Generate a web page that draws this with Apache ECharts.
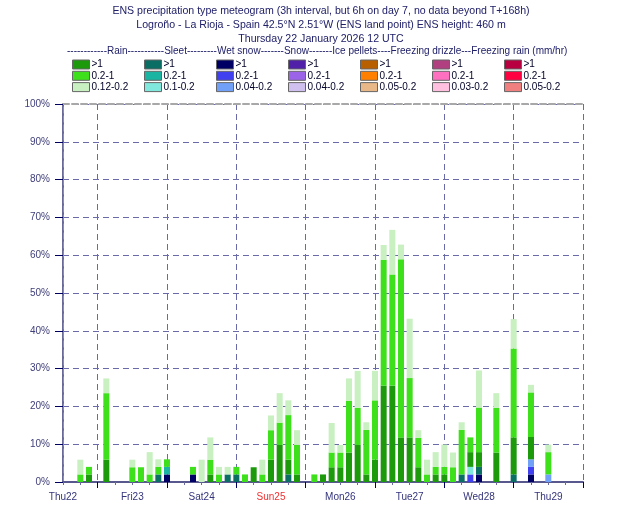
<!DOCTYPE html>
<html lang="en">
<head>
    <meta charset="UTF-8">
    <title>ENS precipitation type meteogram</title>
    <style>
        body { margin: 0; background: #fff; }
    </style>
</head>
<body>
<div id="main" style="width: 630px;height:525px;"></div>
<script src="https://cdn.jsdelivr.net/npm/echarts@6/dist/echarts.min.js"></script>
<script>
    // hours after Thu22 12 UTC (3h steps, then 6h on day 7)
    var hours = [0, 3, 6, 9, 12, 15, 18, 21, 24, 27, 30, 33, 36, 39, 42, 45, 48, 51, 54, 57,
        60, 63, 66, 69, 72, 75, 78, 81, 84, 87, 90, 93, 96, 99, 102, 105, 108, 111, 114, 117,
        120, 123, 126, 129, 132, 135, 138, 141, 144, 150, 156, 162, 168];
    var days = ['Thu22', 'Fri23', 'Sat24', 'Sun25', 'Mon26', 'Tue27', 'Wed28', 'Thu29'];
    var halfDays = ['0', '12', '24', '36', '48', '60', '72', '84', '96', '108', '120', '132', '144', '156', '168', '180'];

    // probability (%) per class, same order as hours
    var wetSnow1 = [0,0,0,0,0,0,0,0,0,0,0,0,2,0,0,2,0,0,0,0, 0,0,0,0,0,0,0,0,0,0,0,0,0,0,0,0,0,0,0,0, 0,0,0,0,0,0,0,0,2,0,0,2,0];
    var wetSnow2 = [0,0,0,0,0,0,0,0,0,0,0,0,0,0,0,0,0,0,0,0, 0,0,0,0,0,0,0,0,0,0,0,0,0,0,0,0,0,0,0,0, 0,0,0,0,0,0,0,2,0,0,0,2,0];
    var wetSnow3 = [0,0,0,0,0,0,0,0,0,0,0,0,0,0,0,0,0,0,0,0, 0,0,0,0,0,0,0,0,0,0,0,0,0,0,0,0,0,0,0,0, 0,0,0,0,0,0,0,0,0,0,0,2,2];
    var sleet1 = [0,0,0,0,0,0,0,0,0,0,0,2,0,0,0,0,0,0,0,2, 2,0,0,0,0,0,2,0,0,0,0,0,0,0,0,0,0,0,0,0, 0,0,0,0,0,0,2,0,2,0,2,0,0];
    var sleet2 = [0,0,0,0,0,0,0,0,0,0,0,0,2,0,0,0,0,0,0,0, 0,0,0,0,0,0,0,0,0,0,0,0,0,0,0,0,0,0,0,0, 0,0,0,0,0,0,0,0,0,0,0,0,0];
    var sleet3 = [0,0,0,0,0,0,0,0,0,0,0,0,0,0,0,0,0,0,0,0, 0,0,0,0,0,0,0,0,0,0,0,0,0,0,0,0,0,0,0,0, 0,0,0,0,0,0,0,2,0,0,0,0,0];
    var rain1 = [0,0,0,2,0,5.9,0,0,0,0,0,0,0,0,0,0,0,2,0,0, 0,0,3.9,0,5.9,9.8,3.9,2,0,0,2,3.9,3.9,7.8,9.8,2,5.9,25.5,25.5,11.8,
        11.8,3.9,0,2,2,0,0,3.9,3.9,7.8,9.8,5.9,0];
    var rain2 = [0,0,2,2,0,17.6,0,0,3.9,3.9,2,2,2,0,0,2,0,3.9,2,0, 2,2,0,2,7.8,5.9,11.8,7.8,0,2,0,3.9,3.9,13.7,9.8,11.8,15.7,33.3,29.4,47.1,
        15.7,7.8,2,2,2,3.9,11.8,3.9,11.8,11.8,23.5,11.8,5.9];
    var rain3 = [0,0,3.9,0,0,3.9,0,0,2,0,5.9,2,0,0,0,0,5.9,5.9,2,2, 0,0,0,3.9,3.9,7.8,3.9,3.9,0,0,0,7.8,2,5.9,9.8,2,7.8,3.9,11.8,3.9,
        15.7,2,3.9,3.9,5.9,3.9,2,0,9.8,3.9,7.8,2,2];

    var groups = ['Rain', 'Sleet', 'Wet snow', 'Snow', 'Ice pellets', 'Freezing drizzle', 'Freezing rain'];
    var classes = [
        ['>1', '0.2-1', '0.12-0.2'],
        ['>1', '0.2-1', '0.1-0.2'],
        ['>1', '0.2-1', '0.04-0.2'],
        ['>1', '0.2-1', '0.04-0.2'],
        ['>1', '0.2-1', '0.05-0.2'],
        ['>1', '0.2-1', '0.03-0.2'],
        ['>1', '0.2-1', '0.05-0.2']
    ];
    var colors = [
        ['#1c9a0c', '#3ee01c', '#c8f0c0'],
        ['#0b6e64', '#1ab5a2', '#80e8dc'],
        ['#000064', '#4040f0', '#70a0f8'],
        ['#5020a8', '#9b64e8', '#d0c0f0'],
        ['#b86000', '#ff8000', '#e8b888'],
        ['#b04080', '#ff70c0', '#ffc0e0'],
        ['#b80040', '#ff0040', '#f08080']
    ];
    var values = {
        'Wet snow': [wetSnow1, wetSnow2, wetSnow3],
        'Sleet': [sleet1, sleet2, sleet3],
        'Rain': [rain1, rain2, rain3]
    };
    // stacking order, bottom to top
    var stackOrder = ['Wet snow', 'Sleet', 'Rain', 'Snow', 'Ice pellets', 'Freezing drizzle', 'Freezing rain'];

    // 3-hourly slots over the whole axis (Thu22 12 UTC .. Fri30 00 UTC)
    var slots = [];
    for (var h = 0; h <= 180; h += 3) slots.push(h);

    var series = [];
    stackOrder.forEach(function (g) {
        var gi = groups.indexOf(g);
        for (var c = 0; c < 3; c++) {
            var vals = values[g] ? values[g][c] : null;
            series.push({
                name: g + '|' + classes[gi][c],
                type: 'bar',
                stack: 'p',
                barWidth: 6,
                xAxisIndex: 0,
                yAxisIndex: 0,
                itemStyle: { color: colors[gi][c] },
                data: slots.map(function (s) {
                    var i = hours.indexOf(s);
                    return (vals && i >= 0) ? vals[i] : 0;
                })
            });
        }
    });

    var legends = groups.map(function (g, gi) {
        return {
            orient: 'vertical',
            left: 72 + gi * 72,
            top: 59.5,
            padding: 0,
            icon: 'rect',
            itemWidth: 17,
            itemHeight: 9,
            itemGap: 1.3,
            selectedMode: false,
            itemStyle: { borderColor: '#666', borderWidth: 1 },
            textStyle: { fontSize: 10, color: '#000028', fontFamily: 'Liberation Sans', lineHeight: 9, padding: [0, 0, 0, -3] },
            formatter: function (name) { return name.split('|')[1]; },
            data: classes[gi].map(function (c) { return g + '|' + c; })
        };
    });

    var myChart = echarts.init(document.getElementById('main'));
    myChart.setOption({
        backgroundColor: '#fff',
        animation: false,
        textStyle: { fontFamily: 'Liberation Sans' },
        title: [
            {
                text: 'ENS precipitation type meteogram (3h interval, but 6h on day 7, no data beyond T+168h)\nLogroño - La Rioja - Spain 42.5°N 2.51°W (ENS land point) ENS height: 460 m',
                left: 321, top: 3.3, textAlign: 'center', padding: 0,
                textStyle: { fontSize: 10.6, fontWeight: 'normal', color: '#20206a', lineHeight: 14.6, fontFamily: 'Liberation Sans' }
            },
            {
                text: 'Thursday 22 January 2026 12 UTC',
                left: 321, top: 32.5, textAlign: 'center', padding: 0,
                textStyle: { fontSize: 10.6, fontWeight: 'normal', color: '#20206a', lineHeight: 14, fontFamily: 'Liberation Sans' }
            },
            {
                text: '------------Rain-----------Sleet---------Wet snow-------Snow-------Ice pellets----Freezing drizzle---Freezing rain (mm/hr)',
                left: 67, top: 45, padding: 0,
                textStyle: { fontSize: 10, fontWeight: 'normal', color: '#20206a', lineHeight: 12, fontFamily: 'Liberation Sans' }
            }
        ],
        legend: legends,
        grid: { left: 63, right: 47, top: 104, bottom: 43 },
        xAxis: [
            {
                // bar positions, one slot every 3 h
                type: 'category', data: slots, boundaryGap: false, show: false, position: 'bottom'
            },
            {
                type: 'value', min: 0, max: 180, interval: 6, position: 'bottom',
                axisLine: { lineStyle: { color: '#58588e', width: 2 } },
                axisTick: { length: 3, lineStyle: { color: '#6a6aa0' } },
                splitLine: { show: false },
                axisLabel: {
                    margin: 10, fontSize: 10,
                    formatter: function (v) {
                        if (v % 24 !== 0) return '';
                        var d = days[v / 24];
                        return d === 'Sun25' ? '{red|' + d + '}' : '{n|' + d + '}';
                    },
                    rich: {
                        n: { color: '#34347c', fontSize: 10, fontFamily: 'Liberation Sans' },
                        red: { color: '#f03030', fontSize: 10, fontFamily: 'Liberation Sans' }
                    }
                }
            },
            {
                type: 'category', data: halfDays, boundaryGap: false, position: 'bottom',
                axisLine: { show: false },
                axisLabel: { show: false },
                axisTick: { show: true, length: 6, interval: function (i) { return i % 2 === 1; }, lineStyle: { color: '#000060' } },
                splitLine: { show: true, interval: function (i) { return i % 2 === 1; }, lineStyle: { type: [6, 4], color: '#6a6aa8' } }
            },
            {
                type: 'value', position: 'top', min: 0, max: 180,
                axisLine: { lineStyle: { type: [6, 3], color: '#a8a8a8', width: 2 } },
                axisTick: { show: false }, axisLabel: { show: false }, splitLine: { show: false }
            }
        ],
        yAxis: [
            {
                type: 'value', min: 0, max: 100, interval: 10,
                axisLine: { show: true, lineStyle: { color: '#6a6a9a', width: 2 } },
                axisTick: { show: true, length: 8, lineStyle: { color: '#000060' } },
                axisLabel: { formatter: '{value}%', fontSize: 10, color: '#40407c', margin: 13, fontFamily: 'Liberation Sans' },
                splitLine: { lineStyle: { type: [6, 4], color: '#6a6aa8' } }
            },
            {
                type: 'value', position: 'right', min: 0, max: 100,
                axisLine: { show: true, lineStyle: { type: [6, 3], color: '#909090' } },
                axisTick: { show: false }, axisLabel: { show: false }, splitLine: { show: false }
            }
        ],
        series: series
    });
</script>
</body>
</html>
